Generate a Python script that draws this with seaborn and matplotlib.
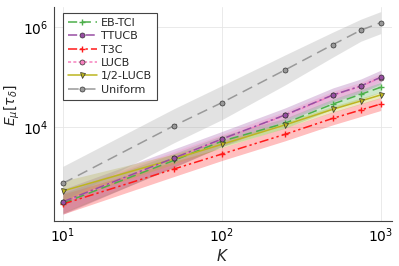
import numpy as np
import pandas as pd
import matplotlib
matplotlib.use("Agg")
import matplotlib.pyplot as plt
import seaborn as sns
from matplotlib.ticker import FixedLocator, NullLocator

# number of arms
K = [10, 50, 100, 250, 500, 750, 1000]

# expected sample complexity per algorithm
eb_tci = [300, 2150, 5200, 11900, 28800, 45000, 62200]
ttucb = [321, 2400, 5750, 17400, 43700, 66000, 98600]
t3c = [288, 1445, 2880, 7140, 14900, 21900, 28800]
lucb = [315, 2350, 5650, 17000, 43000, 65000, 97000]
half_lucb = [525, 2290, 4500, 11000, 22600, 33100, 43700]
uniform = [748, 10600, 30600, 138000, 443000, 859000, 1220000]

# half width of the shaded ribbons, in decades
eb_tci_band = [0.2, 0.14, 0.11, 0.1, 0.1, 0.1, 0.1]
ttucb_band = [0.25, 0.18, 0.15, 0.14, 0.14, 0.14, 0.14]
t3c_band = [0.2, 0.15, 0.13, 0.13, 0.13, 0.13, 0.13]
lucb_band = [0.2, 0.14, 0.1, 0.08, 0.08, 0.08, 0.08]
half_lucb_band = [0.2, 0.1, 0.07, 0.06, 0.06, 0.06, 0.06]
uniform_band = [0.34, 0.34, 0.34, 0.3, 0.25, 0.22, 0.22]

series = [
    ("EB-TCI", eb_tci, eb_tci_band, "#4daf4a", (0, (6, 3)), "+", 3),
    ("TTUCB", ttucb, ttucb_band, "#984ea3", (0, (6, 2, 1.5, 2)), "o", 4),
    ("T3C", t3c, t3c_band, "#ff1a1a", (0, (6, 2, 1.5, 2, 1.5, 2)), "+", 3),
    ("LUCB", lucb, lucb_band, "#f781bf", (0, (2, 1.5)), "o", 2),
    ("1/2-LUCB", half_lucb, half_lucb_band, "#bcb520", "-", "v", 3),
    ("Uniform", uniform, uniform_band, "#999999", (0, (7, 4)), "o", 3),
]

sns.set_style("white")
plt.rcParams["font.family"] = ["DejaVu Sans"]
plt.rcParams["mathtext.fontset"] = "dejavusans"

fig = plt.figure(figsize=(3.99, 2.66), dpi=100)
ax = fig.add_axes([0.135, 0.169, 0.847, 0.805])

for name, vals, band, color, ls, marker, z in series:
    vals = np.array(vals, dtype=float)
    band = np.array(band)
    ax.fill_between(K, vals / 10 ** band, vals * 10 ** band, color=color,
                    alpha=0.28, linewidth=0, zorder=1)
    df = pd.DataFrame({"K": K, "val": vals})
    is_plus = marker == "+"
    sns.lineplot(data=df, x="K", y="val", ax=ax, color=color, linestyle=ls,
                 linewidth=1.1, marker=marker, markersize=5 if is_plus else 3.6,
                 markeredgecolor=color if is_plus else "#333333",
                 markeredgewidth=1.0 if is_plus else 0.5,
                 label=name, zorder=z + 2)

ax.set_xscale("log")
ax.set_yscale("log")
ax.set_xlim(10 ** 0.943, 10 ** 3.07)
ax.set_ylim(10 ** 2.12, 10 ** 6.4)
ax.xaxis.set_major_locator(FixedLocator([10, 100, 1000]))
ax.yaxis.set_major_locator(FixedLocator([1e4, 1e6]))
ax.xaxis.set_minor_locator(NullLocator())
ax.yaxis.set_minor_locator(NullLocator())
ax.grid(True, color="#e6e6e6", linewidth=0.6, zorder=0)
ax.set_axisbelow(True)

for side in ["top", "right"]:
    ax.spines[side].set_visible(False)
for side in ["left", "bottom"]:
    ax.spines[side].set_color("#444444")
    ax.spines[side].set_linewidth(0.8)
ax.tick_params(direction="in", length=3, width=0.6, colors="#444444",
               labelcolor="black", labelsize=10, pad=4)

ax.set_xlabel(r"$K$", fontsize=11, labelpad=2)
ax.set_ylabel(r"$E_\mu[\tau_\delta]$", fontsize=10)
ax.yaxis.set_label_coords(-0.095, 0.54)

leg = ax.legend(loc="upper left", bbox_to_anchor=(0.027, 0.972), borderaxespad=0,
                fontsize=8, labelspacing=0.3, handlelength=2.6, handletextpad=0.4,
                borderpad=0.45, fancybox=False, edgecolor="#444444", framealpha=1)
leg.get_frame().set_linewidth(0.8)

fig.savefig("out.png", dpi=100)
